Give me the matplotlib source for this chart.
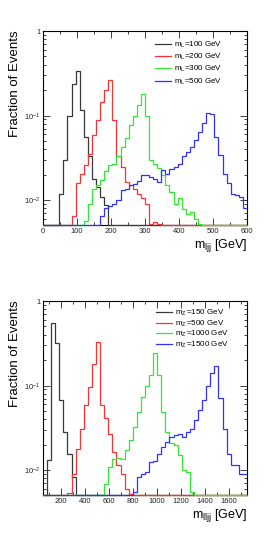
import numpy as np
import matplotlib
matplotlib.use("Agg")
import matplotlib.pyplot as plt
from matplotlib.lines import Line2D
from matplotlib.ticker import LogLocator, FuncFormatter, MultipleLocator, NullFormatter

plt.rcParams["font.family"] = ["Liberation Sans", "DejaVu Sans"]
plt.rcParams["mathtext.fontset"] = "custom"
plt.rcParams["mathtext.rm"] = "Liberation Sans"
plt.rcParams["mathtext.it"] = "Liberation Sans"
plt.rcParams["mathtext.default"] = "regular"

# ---- top panel: m_ljj, 50 bins 0..600 GeV ----
top_lo, top_hi, top_nbins = 0, 600, 50
top_labels = ["$m_{L}$=100 GeV", "$m_{L}$=200 GeV", "$m_{L}$=300 GeV", "$m_{L}$=500 GeV"]
top_starts = [48, 84, 120, 168]   # low edge of first filled bin
mL100 = [0.0117, 0.030, 0.099, 0.236, 0.336, 0.116, 0.056, 0.033, 0.018, 0.0145, 0.011, 0.0088]
mL200 = [0.0066, 0.016, 0.0207, 0.026, 0.035, 0.059, 0.088, 0.146, 0.20, 0.263, 0.088, 0.033,
         0.025, 0.0165, 0.015, 0.0135, 0.012, 0.0105, 0.0091, 0.0053, 0.0056, 0.0052]
mL300 = [0.0057, 0.0091, 0.0137, 0.015, 0.0172, 0.022, 0.026, 0.027, 0.033, 0.043, 0.054, 0.078,
         0.10, 0.135, 0.178, 0.1, 0.030, 0.027, 0.024, 0.02, 0.015, 0.0125, 0.009, 0.0105, 0.0078,
         0.0068, 0.0072, 0.006, 0.0053]
mL500 = [0.0066, 0.008, 0.0085, 0.009, 0.01, 0.0131, 0.0135, 0.015, 0.0155, 0.017, 0.0198, 0.02,
         0.019, 0.018, 0.0165, 0.023, 0.0205, 0.0235, 0.025, 0.027, 0.033, 0.037, 0.043, 0.052,
         0.064, 0.081, 0.108, 0.104, 0.056, 0.034, 0.0207, 0.0158, 0.012, 0.0115, 0.011, 0.008]

# ---- bottom panel: m_lljj, 50 bins 50..1750 GeV ----
bot_lo, bot_hi, bot_nbins = 50, 1750, 50
bot_labels = ["$m_{Z'}$=150 GeV", "$m_{Z'}$=500 GeV", "$m_{Z'}$=1000 GeV", "$m_{Z'}$=1500 GeV"]
bot_starts = [84, 254, 560, 798]
mZ150 = [0.0131, 0.545, 0.316, 0.067, 0.028, 0.0157, 0.0083]
mZ500 = [0.0054, 0.0091, 0.018, 0.031, 0.059, 0.097, 0.18, 0.324, 0.059, 0.041, 0.027, 0.0165,
         0.0115, 0.009, 0.006, 0.0053]
mZ1000 = [0.0069, 0.011, 0.0135, 0.014, 0.0137, 0.0172, 0.023, 0.0326, 0.049, 0.074, 0.10, 0.133,
          0.245, 0.133, 0.049, 0.028, 0.021, 0.02, 0.015, 0.01, 0.0095, 0.0055]
mZ1500 = [0.0055, 0.0083, 0.009, 0.0095, 0.0125, 0.013, 0.0157, 0.019, 0.0217, 0.0248, 0.026, 0.027,
          0.025, 0.028, 0.031, 0.039, 0.051, 0.067, 0.10, 0.14, 0.17, 0.071, 0.031, 0.0157, 0.0115,
          0.0115, 0.0091, 0.0091]

colors = ["#383838", "#ff3030", "#30e830", "#3030ff"]
ymin, ymax = 0.0051, 1.0


def full_hist(start, vals, lo, hi, n):
    width = (hi - lo) / n
    out = np.zeros(n)
    i0 = int(round((start - lo) / width))
    out[i0:i0 + len(vals)] = vals
    return out


def draw_panel(ax, lo, hi, n, starts, series, labels, xlabel, major, minor, leg_anchor, leg_spacing):
    edges = np.linspace(lo, hi, n + 1)
    for st, vals, c in zip(starts, series, colors):
        h = full_hist(st, vals, lo, hi, n)
        ax.stairs(np.maximum(h, ymin), edges, baseline=None, color=c, lw=0.9,
                  clip_on=False, zorder=3)
    ax.set_yscale("log")
    ax.set_xlim(lo, hi)
    ax.set_ylim(ymin, ymax)
    ax.xaxis.set_major_locator(MultipleLocator(major))
    ax.xaxis.set_minor_locator(MultipleLocator(minor))
    ax.yaxis.set_major_locator(LogLocator(base=10, numticks=10))
    ax.yaxis.set_minor_locator(LogLocator(base=10, subs=np.arange(2, 10), numticks=10))
    ax.yaxis.set_minor_formatter(NullFormatter())
    ax.yaxis.set_major_formatter(FuncFormatter(
        lambda v, pos: "1" if abs(v - 1) < 1e-9 else f"$10^{{{int(round(np.log10(v)))}}}$"))
    ax.tick_params(which="both", direction="in", top=True, right=True, width=0.6,
                   labelsize=5.5, colors="#222222", pad=2)
    ax.tick_params(which="major", length=5)
    ax.tick_params(which="minor", length=2.5)
    for sp in ax.spines.values():
        sp.set_linewidth(0.8)
    handles = [Line2D([], [], color=c, lw=0.9) for c in colors]
    ax.legend(handles, labels, loc="upper left", bbox_to_anchor=leg_anchor, frameon=False,
              fontsize=5.8, handlelength=2.0, handletextpad=0.3, labelspacing=leg_spacing,
              borderpad=0, borderaxespad=0)
    ax.text(1.0, -0.105, xlabel, transform=ax.transAxes, ha="right", va="center", fontsize=9)


fig = plt.figure(figsize=(2.77, 5.40), dpi=100)
ax1 = fig.add_axes([43 / 277, 1 - 225 / 540, 204 / 277, 194 / 540])
ax2 = fig.add_axes([43 / 277, 1 - 495 / 540, 204 / 277, 194 / 540])

draw_panel(ax1, top_lo, top_hi, top_nbins, top_starts, [mL100, mL200, mL300, mL500],
           top_labels, "$m_{ljj}$ [GeV]", 100, 50, (0.549, 0.955), 0.25)
draw_panel(ax2, bot_lo, bot_hi, bot_nbins, bot_starts, [mZ150, mZ500, mZ1000, mZ1500],
           bot_labels, "$m_{lljj}$ [GeV]", 200, 100, (0.554, 0.966), 0.08)

fig.text(15 / 277, 1 - 30 / 540, "Fraction of Events", rotation=90, ha="center", va="top", fontsize=9.5)
fig.text(15 / 277, 1 - 300 / 540, "Fraction of Events", rotation=90, ha="center", va="top", fontsize=9.5)

fig.savefig("out.png", dpi=100)
